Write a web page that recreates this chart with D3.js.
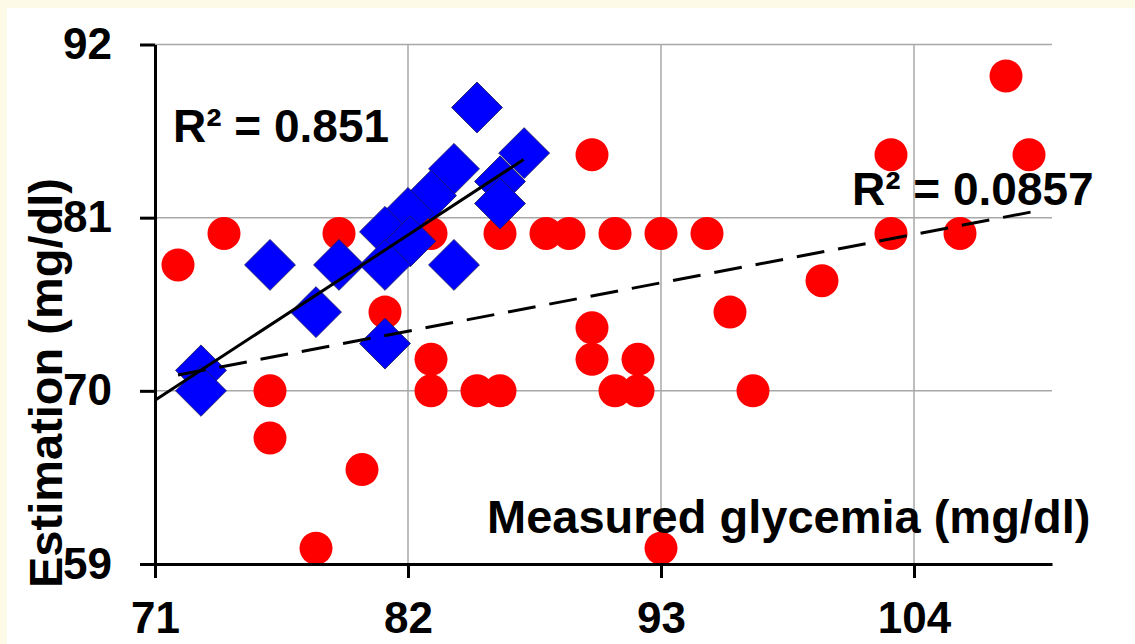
<!DOCTYPE html>
<html>
<head>
<meta charset="utf-8">
<script src="https://cdn.jsdelivr.net/npm/d3@7"></script>
<style>
  body { margin: 0; background: #fdfae8; }
  text { font-family: "Liberation Sans", Arial, Helvetica, sans-serif; font-weight: bold; fill: #000; }
</style>
</head>
<body>
<div id="viz"></div>
<script>
// measured (x) vs estimated (y), mg/dl
var redX = [72, 74, 79, 76, 76, 80, 78, 81, 83, 83, 83, 85, 86, 86, 88, 89, 91, 93, 95,
  90, 90, 90, 91, 92, 92, 93, 96, 97, 100, 103, 103, 106, 108, 109];
var redY = [78, 80, 80, 70, 67, 65, 60, 75, 80, 72, 70, 70, 70, 80, 80, 80, 80, 80, 80,
  85, 74, 72, 70, 70, 72, 60, 75, 70, 77, 85, 80, 80, 90, 85];

var blueX = [85, 87.05, 84, 86, 86, 83, 82, 81, 82.1, 79, 76, 81, 84, 78, 81, 73, 73];
var blueY = [88, 85.1, 84.1, 83.3, 81.9, 82.4, 81.3, 80.1, 79.5, 78, 78, 78, 78, 75, 73, 71.3, 70];

// trend lines
var blueTrendX = [71, 87.03];
var blueTrendY = [69.4, 84.7];
var redTrendX = [72, 109.6];
var redTrendY = [71.0, 81.5];

var xTicks = [71, 82, 93, 104];
var yTicks = [59, 70, 81, 92];

var W = 1135, H = 644;
var margin = { top: 44.5, right: 83, bottom: 80, left: 155 };

var svg = d3.select('#viz').append('svg')
  .attr('width', W)
  .attr('height', H);

svg.append('rect').attr('width', W).attr('height', H).attr('fill', '#fdfae8');
svg.append('rect').attr('x', 7).attr('y', 8).attr('width', W - 7).attr('height', H - 8).attr('fill', '#fff');

var xScale = d3.scaleLinear().domain([71, 110]).range([margin.left, W - margin.right]);
var yScale = d3.scaleLinear().domain([59, 92]).range([H - margin.bottom, margin.top]);

// grid
svg.append('g').selectAll('line').data(yTicks.slice(1)).enter().append('line')
  .attr('x1', xScale(71)).attr('x2', xScale(110))
  .attr('y1', function(d) { return yScale(d); })
  .attr('y2', function(d) { return yScale(d); })
  .attr('stroke', '#a8a8a8').attr('stroke-width', 1.5);
svg.append('g').selectAll('line').data(xTicks.slice(1)).enter().append('line')
  .attr('y1', yScale(59)).attr('y2', yScale(92))
  .attr('x1', function(d) { return xScale(d); })
  .attr('x2', function(d) { return xScale(d); })
  .attr('stroke', '#a8a8a8').attr('stroke-width', 1.5);

// red circles
svg.append('g').selectAll('circle').data(redX).enter().append('circle')
  .attr('cx', function(d) { return xScale(d); })
  .attr('cy', function(d, i) { return yScale(redY[i]); })
  .attr('r', 16.5)
  .attr('fill', '#ff0000');

// blue diamonds
var diamond = d3.symbol().type(d3.symbolSquare).size(36 * 36);
svg.append('g').selectAll('path').data(blueX).enter().append('path')
  .attr('d', diamond)
  .attr('transform', function(d, i) {
    return 'translate(' + xScale(d) + ',' + yScale(blueY[i]) + ') rotate(45)';
  })
  .attr('fill', '#0000ff')
  .attr('stroke', '#1c1c60')
  .attr('stroke-width', 0.8);

// trend lines
var line = d3.line()
  .x(function(d) { return xScale(d[0]); })
  .y(function(d) { return yScale(d[1]); });

svg.append('path')
  .datum(d3.zip(redTrendX, redTrendY))
  .attr('d', line)
  .attr('fill', 'none')
  .attr('stroke', '#000')
  .attr('stroke-width', 3)
  .attr('stroke-dasharray', '28,14');

svg.append('path')
  .datum(d3.zip(blueTrendX, blueTrendY))
  .attr('d', line)
  .attr('fill', 'none')
  .attr('stroke', '#000')
  .attr('stroke-width', 3);

// axes
var yAxis = svg.append('g')
  .attr('transform', 'translate(' + margin.left + ',0)')
  .call(d3.axisLeft(yScale).tickValues(yTicks).tickSize(15).tickSizeOuter(0).tickPadding(28));
var xAxis = svg.append('g')
  .attr('transform', 'translate(0,' + (H - margin.bottom) + ')')
  .call(d3.axisBottom(xScale).tickValues(xTicks).tickSize(14).tickSizeOuter(0).tickPadding(24));

[xAxis, yAxis].forEach(function(ax) {
  ax.select('.domain').attr('stroke', '#000').attr('stroke-width', 3);
  ax.selectAll('.tick line').attr('stroke', '#000').attr('stroke-width', 3);
  ax.selectAll('.tick text')
    .style('font-size', '44px')
    .style('font-family', '"Liberation Sans", Arial, sans-serif')
    .style('font-weight', 'bold')
    .attr('fill', '#000');
});

// titles
svg.append('text')
  .attr('x', 487).attr('y', 533)
  .style('font-size', '47px')
  .text('Measured glycemia (mg/dl)');

svg.append('text')
  .attr('transform', 'translate(62,588) rotate(-90)')
  .style('font-size', '47px')
  .text('Estimation (mg/dl)');

svg.append('text')
  .attr('x', 173).attr('y', 142)
  .style('font-size', '46px')
  .text('R\u00b2 = 0.851');

svg.append('text')
  .attr('x', 852).attr('y', 205)
  .style('font-size', '46px')
  .text('R\u00b2 = 0.0857');
</script>
</body>
</html>
